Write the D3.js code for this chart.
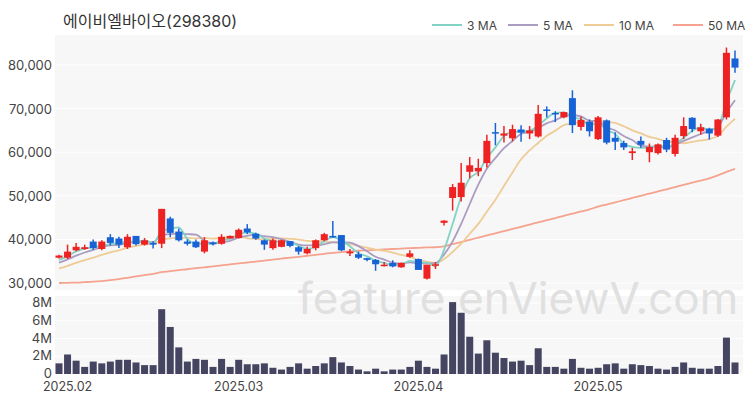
<!DOCTYPE html>
<html>
<head>
<meta charset="utf-8">
<script src="https://cdn.jsdelivr.net/npm/d3@7"></script>
<style>
  body { margin: 0; background: #fff; }
  text { font-family: Inter, "Noto Sans CJK KR", sans-serif; }
</style>
</head>
<body>
<script>
// OHLC, in thousands of won
var opens  = [35.8,35.8,37.5,37.8,39.5,37.8,40.5,40.2,38.2,40.8,38.8,39.2,39,44.8,41.8,39.5,39.5,37.2,39.3,39,
              40.2,40.3,42.5,41.3,39.8,38,38.3,39.6,38.2,36.8,38,39.8,40.8,41,36.8,36.6,35.7,35.3,34,34.6,
              33.6,36,35.5,31,34,43.8,49.5,49.7,55.5,55.6,57.5,64.6,63.8,63.2,65.2,64.3,63.6,69.8,69,68,
              72.4,65.8,67,63,67.3,63.3,62.1,59.8,62.6,60,59.8,62.8,59.6,63.7,67.9,64.8,65.4,63.8,68,81.5];
var closes = [36.3,37.2,38.3,38.2,38,39.5,39.2,38.8,40.6,38.9,39.8,38.8,47,41.5,39.8,39,38.2,39.8,38.9,40.6,
              40.8,42.2,41.6,40.2,38.8,39.8,39.8,38.5,37.2,37.8,39.8,41.2,40.6,37.5,37.2,35.8,35.3,34.3,34.2,33.8,
              34.6,36.8,33,34.2,34.3,44.3,52,53,57,56.4,62.6,64.3,64.3,65.3,64.5,65,68.8,69.5,68.7,69.2,
              66.2,67.4,64.8,68,62.2,62.4,61.1,60.2,61.7,61.2,61.8,60.6,63.3,66,65.3,65.7,64.3,67.5,82.8,79.4];
var highs  = [36.5,38.8,39.2,38.8,40,39.8,41.2,40.6,41.2,40.8,40.3,39.6,47,45.2,42.5,40,40,40.5,39.5,41.2,
              40.9,42.5,43.5,41.5,40,40.2,39.9,39.6,38.5,38.3,40,41.5,44.2,41,37.8,37.2,35.8,35.5,34.8,35.2,
              34.7,37.5,35.6,34.2,34.8,44.4,52.7,57.5,58.9,58.5,64,66.7,66,66.3,66.2,66,70.8,70.5,69.4,69.3,
              74.2,68.2,67.5,68.3,67.5,64.6,62.6,61,63.6,62,62,63.3,64,68,68,66.5,65.6,67.6,84,83.3];
var lows   = [35.6,35.5,37.3,37.6,37.6,37.5,38.6,38,37.8,38.6,38.6,37.9,38,40.5,39.5,38.6,38,36.8,38.6,38.8,
              40.2,40.2,41.2,39.9,37.6,37.6,38.2,38.2,36.5,36.6,37.5,39.6,40.4,37.3,36.2,35.5,35,32.8,33.8,33.6,
              33.5,35.8,33,30.8,33.2,43.2,46.6,48.7,54,54.5,56.5,61.6,62.2,62.5,62.4,63,63.4,68,66.9,67.8,
              64.4,65,63.6,62.8,61.8,60.5,60.5,58.2,61,57.7,59.5,60,59,63,64.6,64,62.9,63.5,67.5,78.2];
// closes before the first visible day (needed for the short averages)
var priorCloses = [31,31.5,32,32.5,33,33.5,34,34.5,35];
// 50-day average
var ma50 = [30,30.05,30.1,30.2,30.3,30.45,30.65,30.9,31.2,31.5,31.8,32.1,32.5,32.7,32.95,33.15,33.4,33.6,33.8,34.05,
            34.25,34.5,34.7,34.9,35.15,35.35,35.6,35.8,36,36.25,36.45,36.7,36.9,37.1,37.25,37.4,37.5,37.6,37.7,37.8,
            37.9,38,38.05,38.15,38.2,38.4,38.9,39.4,39.9,40.4,40.9,41.4,41.9,42.4,42.9,43.4,43.9,44.4,44.9,45.4,
            45.9,46.4,46.9,47.5,48,48.5,49,49.5,50,50.5,51,51.5,52,52.5,53,53.5,54,54.7,55.5,56.2];
var volumes = [1.2,2.2,1.5,0.8,1.4,1.2,1.4,1.6,1.6,1.3,1.0,1.0,7.3,5.3,3.0,1.4,1.7,1.6,0.8,1.7,
               0.8,1.6,1.1,1.1,1.2,0.7,0.5,0.8,1.2,0.6,0.9,1.2,1.9,1.3,0.9,0.5,0.3,0.6,0.3,0.5,
               0.5,0.8,1.5,0.8,0.6,2.2,8.1,6.9,4.2,2.3,3.8,2.4,1.8,1.4,1.5,1.0,2.9,0.8,0.8,0.6,
               1.7,0.7,0.6,0.7,1.1,1.2,0.6,1.1,1.0,0.9,0.6,0.5,0.8,1.3,0.7,0.6,0.6,0.9,4.1,1.3];
var dateTicks = [1, 21, 42, 63];
var dateLabels = ["2025.02", "2025.03", "2025.04", "2025.05"];
var priceTicks = [30000, 40000, 50000, 60000, 70000, 80000];
var volTicks = [0, 2, 4, 6, 8];
var maNames = ["3 MA", "5 MA", "10 MA", "50 MA"];
var maColors = ["#82d3c6", "#ab9cc2", "#efcb96", "#f5a38e"];

var width = 750, height = 400;
var up = "#ee2222", down = "#1763d6";

var svg = d3.select("body").append("svg").attr("width", width).attr("height", height);

var x = d3.scaleLinear().domain([0, 79]).range([59, 735]);
var y = d3.scaleLinear().domain([30000, 80000]).range([283, 65]);
var yv = d3.scaleLinear().domain([0, 8]).range([374, 303]);

// plot backgrounds
svg.append("rect").attr("x", 55).attr("y", 35).attr("width", 688).attr("height", 255).attr("fill", "#f7f7f7");
svg.append("rect").attr("x", 55).attr("y", 296).attr("width", 688).attr("height", 78).attr("fill", "#f7f7f7");

svg.selectAll(".pgrid").data(priceTicks).enter().append("line")
    .attr("x1", 55).attr("x2", 743).attr("y1", d => y(d)).attr("y2", d => y(d))
    .attr("stroke", "#fff").attr("stroke-width", 1);
svg.selectAll(".vgrid").data(volTicks).enter().append("line")
    .attr("x1", 55).attr("x2", 743).attr("y1", d => yv(d)).attr("y2", d => yv(d))
    .attr("stroke", "#fff").attr("stroke-width", 1);

// watermark
svg.append("text").attr("x", 518).attr("y", 314).attr("text-anchor", "middle")
    .attr("font-size", 44).attr("fill", "#e0e0e0").attr("font-family", "Roboto, sans-serif")
    .text("feature.enViewV.com");

// axes labels
svg.selectAll(".plab").data(priceTicks).enter().append("text")
    .attr("x", 52).attr("y", d => y(d) + 5).attr("text-anchor", "end")
    .attr("font-size", 13).attr("fill", "#444").text(d => d3.format(",")(d));
svg.selectAll(".vlab").data(volTicks).enter().append("text")
    .attr("x", 52).attr("y", d => yv(d) + 4).attr("text-anchor", "end")
    .attr("font-size", 13).attr("fill", "#444").text(d => d === 0 ? "0" : d + "M");
svg.selectAll(".dlab").data(dateTicks).enter().append("text")
    .attr("x", d => x(d)).attr("y", 391).attr("text-anchor", "middle")
    .attr("font-size", 12.5).attr("fill", "#444").text((d, i) => dateLabels[i]);

// volume bars
svg.selectAll(".vol").data(volumes).enter().append("rect")
    .attr("x", (d, i) => x(i) - 3.5).attr("width", 7)
    .attr("y", d => yv(d)).attr("height", d => yv(0) - yv(d))
    .attr("fill", "#454562");

// moving averages
var all = priorCloses.concat(closes);
function movingAvg(n) {
    return closes.map((c, i) => d3.mean(all.slice(i + priorCloses.length - n + 1, i + priorCloses.length + 1)));
}
var maSeries = [movingAvg(3), movingAvg(5), movingAvg(10), ma50];
var line = d3.line().x((d, i) => x(i)).y(d => y(d * 1000)).curve(d3.curveMonotoneX);
[3, 2, 1, 0].forEach(k => {
    svg.append("path").attr("d", line(maSeries[k])).attr("fill", "none")
        .attr("stroke", maColors[k]).attr("stroke-width", 1.8);
});

// candles
var candles = svg.selectAll(".candle").data(closes).enter().append("g");
candles.append("line")
    .attr("x1", (d, i) => x(i)).attr("x2", (d, i) => x(i))
    .attr("y1", (d, i) => y(highs[i] * 1000)).attr("y2", (d, i) => y(lows[i] * 1000))
    .attr("stroke", (d, i) => d >= opens[i] ? up : down).attr("stroke-width", 1.5);
candles.append("rect")
    .attr("x", (d, i) => x(i) - 3.5).attr("width", 7)
    .attr("y", (d, i) => y(Math.max(d, opens[i]) * 1000))
    .attr("height", (d, i) => Math.max(1.5, Math.abs(y(d * 1000) - y(opens[i] * 1000))))
    .attr("fill", (d, i) => d >= opens[i] ? up : down);

// title
svg.append("text").attr("x", 63).attr("y", 27).attr("font-size", 16).attr("fill", "#333")
    .text("에이비엘바이오(298380)");

// legend
var legX = [432, 508, 584, 673];
maNames.forEach((n, k) => {
    svg.append("line").attr("x1", legX[k]).attr("x2", legX[k] + 30).attr("y1", 25).attr("y2", 25)
        .attr("stroke", maColors[k]).attr("stroke-width", 2);
    svg.append("text").attr("x", legX[k] + 35).attr("y", 30).attr("font-size", 12).attr("fill", "#444").text(n);
});
</script>
</body>
</html>
